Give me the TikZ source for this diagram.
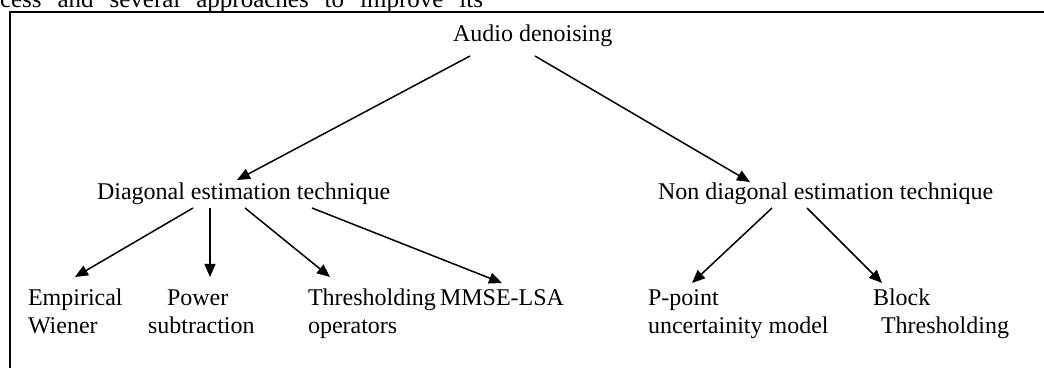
\documentclass[tikz,border=0pt]{standalone}
\usepackage{fontspec}
\setmainfont{Liberation Serif}
\usetikzlibrary{arrows.meta,calc}
\tikzset{
  lbl/.style={inner sep=0pt, outer sep=0pt, anchor=base west, align=left,
    font=\fontsize{24pt}{28pt}\selectfont},
  arr/.style={line width=1.5pt, -{Triangle[length=13pt,width=11pt]}},
  frame/.style={line width=2pt}
}
\begin{document}
\begin{tikzpicture}[x=1pt,y=1pt]
\path[use as bounding box, clip] (0,0) rectangle (1044,367);
\fill[white] (0,0) rectangle (1044,367);
% partial caption text at the top
\node[lbl, font=\fontsize{25pt}{28pt}\selectfont] (cap) at (0,359)
  {\makebox[483pt][s]{cess and several approaches to improve its}};
% frame
\coordinate (fbl) at (10,-2);
\coordinate (ftl) at (10,355);
\coordinate (ftr) at (1046,355);
\draw[frame] (fbl) -- (ftl) -- (ftr);
% nodes (multi-line nodes: base = last line's baseline)
\node[lbl] (top) at (453,325) {Audio denoising};
\node[lbl] (diag) at (97,167) {Diagonal estimation technique};
\node[lbl] (nondiag) at (658,167) {Non diagonal estimation technique};
\node[lbl] (emp) at (28,34) {Empirical\\Wiener};
\node[lbl] (pow) at (148,34) {\hspace*{19pt}Power\\subtraction};
\node[lbl] (thr) at (308,34) {Thresholding\\operators};
\node[lbl] (mmse) at (440,62) {MMSE-LSA};
\node[lbl] (ppt) at (648,34) {P-point\\uncertainity model};
\node[lbl] (blk) at (873,34) {Block\\\hspace*{8pt}Thresholding};
% connectors
\draw[arr] ($(top.base west)+(17,-14)$) -- ($(diag.base west)+(140,20)$);
\draw[arr] ($(top.base west)+(82,-14)$) -- ($(nondiag.base west)+(92,18)$);
\draw[arr] ($(diag.base west)+(96,-8)$) -- ($(emp.base west)+(47,56)$);
\draw[arr] ($(diag.base west)+(113,-8)$) -- ($(pow.base west)+(62,56)$);
\draw[arr] ($(diag.base west)+(148,-8)$) -- ($(thr.base west)+(22,56)$);
\draw[arr] ($(diag.base west)+(215,-8)$) -- ($(mmse.base west)+(62,22)$);
\draw[arr] ($(nondiag.base west)+(114,-8)$) -- ($(ppt.base west)+(44,50)$);
\draw[arr] ($(nondiag.base west)+(149,-8)$) -- ($(blk.base west)+(9,50)$);
\end{tikzpicture}
\end{document}
